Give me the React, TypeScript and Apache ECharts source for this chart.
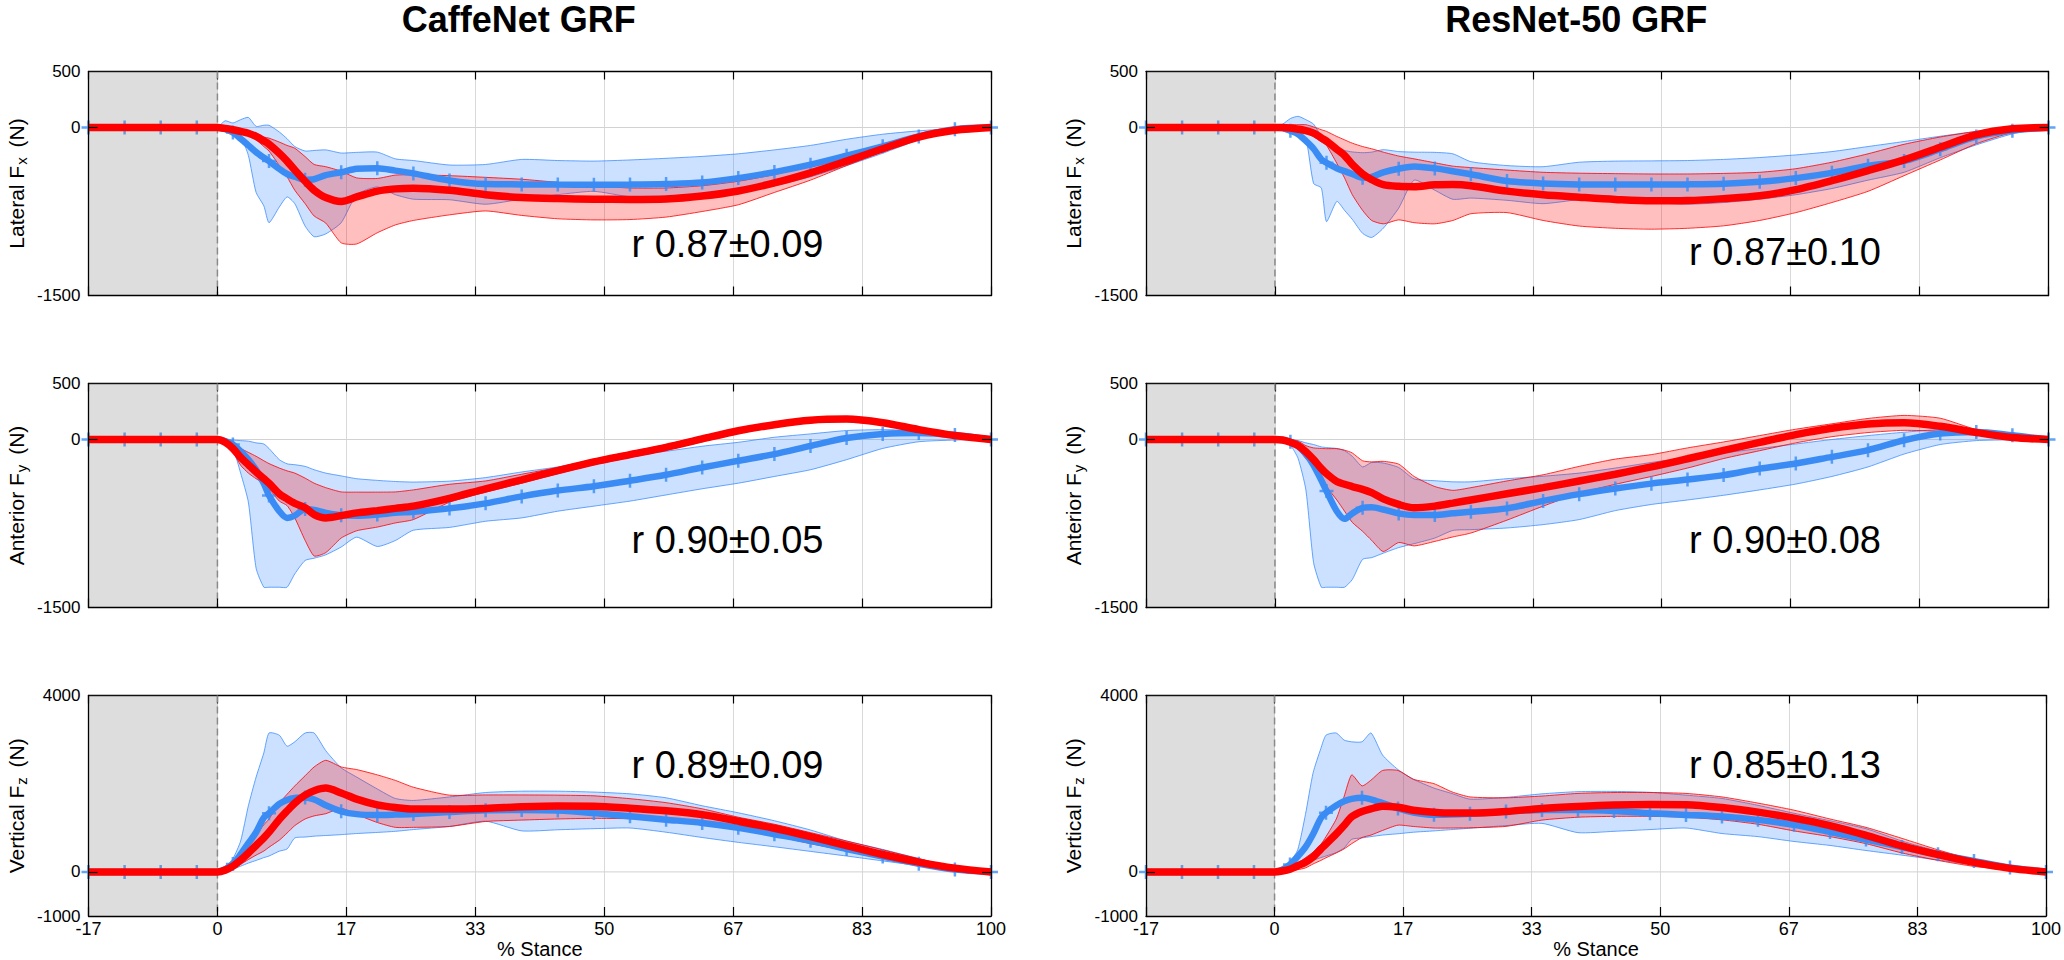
import React, { useEffect, useRef } from "react";
import * as echarts from "echarts";

// % stance sample positions shared by every curve (x = 0 is foot strike)
const STANCE = [
  -16.666, -12, -7.333, -2.667, 0, 1, 2, 3, 4, 5, 6, 6.667, 8, 9, 10, 11.333, 12.5, 14, 16, 18,
  20.667, 23, 25.333, 30, 34.667, 39.333, 44, 48.667, 53.333, 58, 62.667, 67.333, 72, 76.667,
  81.333, 86, 90.667, 95.333, 100,
];
// positions of the "+" markers along the measured mean curve
const MARKER_STANCE = [
  -16.666, -12, -7.333, -2.667, 2, 6.667, 11.333, 16, 20.667, 25.333, 30, 34.667, 39.333, 44,
  48.667, 53.333, 58, 62.667, 67.333, 72, 76.667, 81.333, 86, 90.667, 95.333, 100,
];
const X_TICK_LABELS = ["-17", "0", "17", "33", "50", "67", "83", "100"];

// ---- CaffeNet, lateral Fx ----
const caffeFxMeasMean = [0,0,0,0,0,-15,-45,-100,-160,-220,-270,-300,-370,-415,-440,-467,-462,-425,-400,-368,-363,-385,-410,-473,-505,-508,-510,-511,-510,-505,-492,-452,-398,-332,-252,-168,-80,-15,0];
const caffeFxMeasUp = [5,5,5,5,5,60,40,70,90,10,20,20,-40,-100,-170,-210,-205,-200,-228,-222,-220,-280,-295,-335,-330,-285,-295,-300,-290,-275,-258,-235,-200,-160,-105,-60,-30,-8,0];
const caffeFxMeasLo = [-5,-5,-5,-5,-5,-30,-60,-81,-250,-580,-700,-850,-710,-620,-680,-880,-975,-950,-850,-600,-530,-600,-640,-645,-685,-640,-600,-570,-620,-640,-625,-580,-520,-440,-340,-230,-110,-35,0];
const caffeFxPredMean = [0,0,0,0,0,-8,-20,-35,-51,-80,-120,-150,-230,-300,-380,-480,-560,-625,-660,-620,-568,-548,-542,-560,-600,-625,-635,-640,-642,-638,-612,-567,-495,-405,-300,-190,-85,-25,0];
const caffeFxPredUp = [3,3,3,3,0,0,-5,-15,-30,-50,-85,-95,-130,-160,-185,-260,-330,-350,-390,-450,-455,-425,-422,-430,-445,-462,-490,-520,-540,-540,-520,-480,-420,-340,-250,-150,-65,-15,0];
const caffeFxPredLo = [-3,-3,-3,-3,0,-10,-25,-45,-70,-110,-170,-210,-340,-440,-560,-680,-790,-853,-1030,-1040,-940,-870,-830,-780,-745,-785,-815,-825,-822,-800,-750,-690,-580,-470,-340,-215,-95,-30,0];

// ---- CaffeNet, anterior Fy ----
const caffeFyMeasMean = [0,0,0,0,0,-15,-45,-105,-180,-270,-394,-500,-640,-700,-680,-620,-630,-655,-677,-680,-670,-655,-645,-615,-570,-508,-456,-418,-368,-315,-250,-190,-130,-57,13,50,59,40,0];
const caffeFyMeasUp = [5,5,5,5,5,0,-5,-10,-15,-30,-40,-80,-180,-217,-225,-240,-270,-300,-325,-350,-365,-375,-380,-372,-340,-290,-245,-185,-140,-105,-60,-25,20,50,80,88,78,48,0];
const caffeFyMeasLo = [-5,-5,-5,-5,-5,-20,-80,-300,-560,-1150,-1319,-1319,-1319,-1319,-1200,-1080,-1060,-1030,-960,-872,-955,-902,-810,-785,-730,-700,-640,-595,-550,-495,-440,-390,-330,-270,-180,-80,-20,-5,0];
const caffeFyPredMean = [0,0,0,0,0,-25,-80,-160,-225,-290,-350,-390,-485,-530,-570,-610,-670,-700,-680,-655,-635,-615,-595,-525,-440,-360,-278,-200,-135,-70,5,78,132,172,182,150,88,35,0];
const caffeFyPredUp = [3,3,3,3,0,-10,-40,-80,-115,-150,-190,-215,-255,-280,-300,-345,-390,-430,-468,-470,-470,-468,-450,-400,-370,-310,-250,-175,-110,-45,30,100,155,195,205,172,105,45,0];
const caffeFyPredLo = [-3,-3,-3,-3,0,-35,-110,-230,-300,-350,-394,-440,-550,-590,-700,-900,-1040,-1010,-880,-815,-782,-745,-715,-560,-470,-390,-305,-225,-160,-95,-20,55,110,150,160,128,70,25,0];

// ---- CaffeNet, vertical Fz ----
const caffeFzMeasMean = [0,0,0,0,0,60,180,400,650,900,1230,1330,1540,1630,1675,1685,1640,1510,1375,1310,1290,1300,1315,1360,1400,1405,1390,1333,1260,1185,1110,1000,855,705,520,350,185,55,0];
const caffeFzMeasUp = [10,10,10,10,10,120,300,700,1500,2150,2700,3150,3100,2850,2950,3150,3150,2750,2360,2150,1880,1665,1620,1700,1800,1830,1830,1810,1770,1680,1500,1340,1160,950,700,510,300,90,0];
const caffeFzMeasLo = [-10,-10,-10,-10,-10,20,60,130,200,260,324,360,470,520,770,790,810,825,845,870,895,920,960,1030,1150,930,955,980,995,900,780,670,570,465,360,250,140,40,0];
const caffeFzPredMean = [0,0,0,0,0,40,130,270,430,600,771,900,1190,1380,1560,1740,1840,1900,1790,1650,1520,1460,1425,1425,1440,1475,1494,1490,1445,1385,1298,1150,990,800,595,395,222,85,0];
const caffeFzPredUp = [5,5,5,5,5,60,180,380,600,850,1069,1200,1560,1760,1950,2180,2380,2530,2380,2320,2200,2075,1920,1740,1745,1745,1740,1725,1660,1570,1430,1240,1080,890,700,500,300,110,0];
const caffeFzPredLo = [-5,-5,-5,-5,-5,20,80,170,280,380,473,560,720,880,1050,1200,1270,1320,1440,1300,1120,1010,1010,1030,1144,1175,1200,1215,1205,1170,1080,960,820,640,480,300,150,45,0];

// ---- ResNet-50, lateral Fx ----
const resFxMeasMean = [0,0,0,0,0,-5,-30,-60,-120,-190,-285,-315,-365,-390,-415,-448,-440,-400,-368,-348,-365,-390,-418,-478,-499,-508,-510,-510,-508,-502,-485,-452,-405,-342,-298,-194,-81,-28,0];
const resFxMeasUp = [5,5,5,5,5,30,80,100,70,30,-78,-110,-175,-205,-218,-225,-220,-198,-215,-220,-222,-235,-305,-340,-350,-310,-300,-298,-295,-285,-268,-245,-215,-170,-125,-78,-36,-8,0];
const resFxMeasLo = [-5,-5,-5,-5,-5,-10,-30,-60,-100,-500,-540,-840,-660,-740,-820,-945,-982,-900,-720,-470,-560,-641,-630,-650,-680,-645,-650,-670,-685,-670,-640,-600,-545,-470,-400,-270,-155,-57,0];
const resFxPredMean = [0,0,0,0,0,0,-5,-15,-28,-50,-93,-120,-195,-250,-330,-415,-465,-510,-525,-528,-512,-510,-520,-568,-600,-622,-642,-655,-652,-635,-610,-555,-475,-385,-289,-176,-66,-12,0];
const resFxPredUp = [3,3,3,3,0,15,25,25,25,5,-20,-35,-80,-110,-140,-170,-190,-220,-255,-280,-315,-345,-358,-380,-400,-408,-412,-415,-415,-410,-400,-368,-310,-235,-150,-85,-35,-8,0];
const resFxPredLo = [-3,-3,-3,-3,0,-15,-25,-35,-45,-80,-130,-160,-320,-450,-600,-740,-830,-860,-825,-850,-860,-830,-770,-760,-830,-880,-900,-908,-900,-878,-830,-760,-670,-570,-430,-290,-145,-45,0];

// ---- ResNet-50, anterior Fy ----
const resFyMeasMean = [0,0,0,0,0,-5,-20,-60,-130,-230,-365,-460,-640,-708,-660,-610,-605,-625,-660,-675,-675,-658,-645,-615,-548,-488,-438,-394,-358,-318,-260,-215,-155,-95,-7,53,68,38,0];
const resFyMeasUp = [5,5,5,5,5,5,0,-10,-30,-45,-66,-72,-80,-100,-150,-245,-205,-210,-250,-352,-368,-378,-378,-350,-328,-300,-255,-205,-160,-120,-80,-40,0,35,65,89,78,45,0];
const resFyMeasLo = [-5,-5,-5,-5,-5,-10,-50,-170,-450,-1100,-1319,-1319,-1319,-1319,-1250,-1070,-1055,-1015,-965,-930,-880,-812,-805,-790,-760,-715,-635,-580,-540,-498,-450,-398,-330,-245,-130,-45,-10,-3,0];
const resFyPredMean = [0,0,0,0,0,-5,-25,-55,-110,-180,-260,-305,-375,-400,-420,-445,-475,-530,-580,-610,-595,-568,-540,-485,-430,-370,-310,-245,-172,-97,-25,44,100,138,150,118,63,18,0];
const resFyPredUp = [3,3,3,3,5,5,0,-15,-55,-75,-80,-82,-82,-95,-120,-190,-200,-195,-220,-330,-420,-454,-430,-370,-315,-240,-175,-135,-75,-22,35,92,140,188,215,190,88,25,0];
const resFyPredLo = [-3,-3,-3,-3,-5,-10,-40,-90,-170,-250,-335,-420,-540,-640,-740,-820,-900,-1000,-920,-950,-910,-870,-835,-720,-595,-480,-400,-330,-255,-170,-100,-30,25,62,82,72,40,10,0];

// ---- ResNet-50, vertical Fz ----
const resFzMeasMean = [0,0,0,0,0,50,170,350,560,860,1218,1340,1505,1600,1655,1680,1645,1560,1440,1348,1295,1300,1318,1368,1404,1404,1382,1330,1293,1255,1180,1069,905,734,562,399,250,100,0];
const resFzMeasUp = [10,10,10,10,10,80,220,500,1300,2250,2800,3100,3150,2990,2950,2950,3150,2650,2320,2100,1900,1777,1650,1690,1770,1820,1825,1805,1740,1665,1510,1330,1160,980,700,470,290,120,0];
const resFzMeasLo = [-10,-10,-10,-10,-10,10,60,110,180,260,324,360,440,540,740,770,800,835,865,900,930,960,990,1050,1100,890,920,960,995,870,800,690,600,485,380,270,160,60,0];
const resFzPredMean = [0,0,0,0,0,20,60,140,220,340,520,630,860,1050,1250,1370,1430,1490,1465,1400,1355,1335,1335,1370,1440,1485,1518,1530,1525,1460,1355,1220,1050,830,590,390,215,80,0];
const resFzPredUp = [5,5,5,5,5,40,100,200,320,450,622,800,1200,1700,2200,1950,2080,2300,2300,2100,2000,1814,1700,1680,1720,1780,1800,1800,1780,1700,1560,1400,1200,1010,760,500,270,100,0];
const resFzPredLo = [-5,-5,-5,-5,-5,5,20,50,90,180,260,320,430,520,640,780,835,940,1060,1030,995,995,1000,1032,1175,1240,1260,1260,1240,1180,1080,930,800,640,430,260,125,40,0];

const COLUMN_TITLES = ["CaffeNet GRF", "ResNet-50 GRF"];
const ROW_NAMES = [
  "{n|Lateral F}{s|x}{n| (N)}",
  "{n|Anterior F}{s|y}{n| (N)}",
  "{n|Vertical F}{s|z}{n| (N)}",
];
const X_NAME = "{n|% Stance}";
const ROW_LIMITS = [
  [-1500, 500, 500],
  [-1500, 500, 500],
  [-1000, 4000, 1000],
];
const R_LABELS = [
  ["r 0.87±0.09", "r 0.90±0.05", "r 0.89±0.09"],
  ["r 0.87±0.10", "r 0.90±0.08", "r 0.85±0.13"],
];

const X_MIN = -100 / 6;
const X_MAX = 100;
const X_STEP = 100 / 6;
const SHADE_FROM = X_MIN;
const SHADE_TO = 0;

// layout (px)
const COL_LEFT = [88.5, 1146];
const PLOT_W = 902.5;
const ROW_TOP = [71.5, 383.5, 695.5];
const PLOT_H = 224;
const TITLE_DX = -21;
const R_DX = 543;
const R_Y = [
  [244, 539.5, 765],
  [252, 540, 765],
];

const FONT = '"Liberation Sans", Arial, Helvetica, sans-serif';
const BLUE = "#3a8cf4";
const RED = "#ff0000";
const PLUS = "path://M5,0L5,10M0,5L10,5";

type PanelData = {
  mMean: number[]; mUp: number[]; mLo: number[];
  pMean: number[]; pUp: number[]; pLo: number[];
};

const PANEL_DATA: PanelData[][] = [
  [
    { mMean: caffeFxMeasMean, mUp: caffeFxMeasUp, mLo: caffeFxMeasLo, pMean: caffeFxPredMean, pUp: caffeFxPredUp, pLo: caffeFxPredLo },
    { mMean: caffeFyMeasMean, mUp: caffeFyMeasUp, mLo: caffeFyMeasLo, pMean: caffeFyPredMean, pUp: caffeFyPredUp, pLo: caffeFyPredLo },
    { mMean: caffeFzMeasMean, mUp: caffeFzMeasUp, mLo: caffeFzMeasLo, pMean: caffeFzPredMean, pUp: caffeFzPredUp, pLo: caffeFzPredLo },
  ],
  [
    { mMean: resFxMeasMean, mUp: resFxMeasUp, mLo: resFxMeasLo, pMean: resFxPredMean, pUp: resFxPredUp, pLo: resFxPredLo },
    { mMean: resFyMeasMean, mUp: resFyMeasUp, mLo: resFyMeasLo, pMean: resFyPredMean, pUp: resFyPredUp, pLo: resFyPredLo },
    { mMean: resFzMeasMean, mUp: resFzMeasUp, mLo: resFzMeasLo, pMean: resFzPredMean, pUp: resFzPredUp, pLo: resFzPredLo },
  ],
];

function bandSeries(g: number, lo: number[], hi: number[], fill: string, stroke: string) {
  return {
    type: "custom",
    xAxisIndex: 2 * g,
    yAxisIndex: 2 * g,
    silent: true,
    clip: true,
    data: STANCE.map((x, i) => [x, lo[i], hi[i]]),
    encode: { x: 0, y: [1, 2] },
    renderItem: (params: any, api: any) => {
      if (params.dataIndex !== 0) return null;
      const pts: number[][] = [];
      for (let i = 0; i < STANCE.length; i++) pts.push(api.coord([STANCE[i], hi[i]]));
      for (let i = STANCE.length - 1; i >= 0; i--) pts.push(api.coord([STANCE[i], lo[i]]));
      return {
        type: "polygon",
        shape: { points: pts, smooth: 0.2 },
        style: { fill, stroke, lineWidth: 1 },
      };
    },
  };
}

function buildOption() {
  const grid: any[] = [];
  const xAxis: any[] = [];
  const yAxis: any[] = [];
  const series: any[] = [];
  const graphic: any[] = [];

  for (let c = 0; c < 2; c++) {
    graphic.push({
      type: "text",
      x: COL_LEFT[c] + PLOT_W / 2 + TITLE_DX,
      y: 19,
      style: {
        text: COLUMN_TITLES[c],
        font: `bold 36px ${FONT}`,
        fill: "#000",
        align: "center",
        verticalAlign: "middle",
      },
    });
    for (let r = 0; r < 3; r++) {
      const g = c * 3 + r;
      const [yMin, yMax, yStep] = ROW_LIMITS[r];
      const d = PANEL_DATA[c][r];
      const bottomRow = r === 2;
      grid.push({ left: COL_LEFT[c], top: ROW_TOP[r], width: PLOT_W, height: PLOT_H, containLabel: false });

      // bottom axis: frame, ticks, labels
      xAxis.push({
        type: "value",
        gridIndex: g,
        min: X_MIN,
        max: X_MAX,
        interval: X_STEP,
        position: "bottom",
        z: 10,
        axisLine: { show: true, onZero: false, lineStyle: { color: "#000", width: 1.3 } },
        axisTick: { show: true, inside: true, length: 9, lineStyle: { color: "#000", width: 1.2 } },
        axisLabel: {
          show: bottomRow,
          margin: 4,
          fontSize: 18,
          fontFamily: FONT,
          color: "#000",
          showMinLabel: true,
          showMaxLabel: true,
          formatter: (v: number) => X_TICK_LABELS[Math.round((v - X_MIN) / X_STEP)] ?? "",
        },
        splitLine: { show: false },
        name: bottomRow ? X_NAME : "",
        nameLocation: "middle",
        nameGap: 23,
        nameTextStyle: {
          fontSize: 20,
          fontFamily: FONT,
          color: "#000",
          rich: { n: { fontSize: 20, fontFamily: FONT, color: "#000" } },
        },
      });
      // top axis: frame, top ticks, vertical grid lines (kept below the data)
      xAxis.push({
        type: "value",
        gridIndex: g,
        min: X_MIN,
        max: X_MAX,
        interval: X_STEP,
        position: "top",
        z: 0,
        axisLine: { show: true, onZero: false, lineStyle: { color: "#000", width: 1.3 } },
        axisTick: { show: true, inside: true, length: 8, lineStyle: { color: "#000", width: 1.2 } },
        axisLabel: { show: false },
        splitLine: { show: true, lineStyle: { color: "#d9d9d9", width: 1 } },
      });
      yAxis.push({
        type: "value",
        gridIndex: g,
        min: yMin,
        max: yMax,
        interval: yStep,
        position: "left",
        z: 10,
        axisLine: { show: true, onZero: false, lineStyle: { color: "#000", width: 1.3 } },
        axisTick: { show: true, inside: true, length: 9, customValues: [0], lineStyle: { color: "#000", width: 1.2 } },
        axisLabel: {
          show: true,
          customValues: [yMin, 0, yMax],
          formatter: (v: number) => String(v),
          margin: 8,
          fontSize: 17,
          fontFamily: FONT,
          color: "#000",
          showMinLabel: true,
          showMaxLabel: true,
        },
        splitLine: { show: false },
        name: ROW_NAMES[r],
        nameLocation: "middle",
        nameGap: 60,
        nameTextStyle: {
          fontSize: 21,
          fontFamily: FONT,
          color: "#000",
          rich: {
            n: { fontSize: 21, fontFamily: FONT, color: "#000" },
            s: { fontSize: 15, fontFamily: FONT, color: "#000", padding: [10, 4, 0, 1] },
          },
        },
      });
      yAxis.push({
        type: "value",
        gridIndex: g,
        min: yMin,
        max: yMax,
        interval: yStep,
        position: "right",
        z: 10,
        axisLine: { show: true, onZero: false, lineStyle: { color: "#000", width: 1.3 } },
        axisTick: { show: true, inside: true, length: 9, customValues: [0], lineStyle: { color: "#000", width: 1.2 } },
        axisLabel: { show: false },
        splitLine: { show: false },
      });

      const xi = 2 * g;
      // zero reference line
      series.push({
        type: "custom",
        xAxisIndex: xi,
        yAxisIndex: xi,
        silent: true,
        data: [[0, 0]],
        renderItem: (_p: any, api: any) => {
          const a = api.coord([X_MIN, 0]);
          const b = api.coord([X_MAX, 0]);
          return { type: "line", shape: { x1: a[0], y1: a[1], x2: b[0], y2: b[1] }, style: { stroke: "#d2d2d2", lineWidth: 1 } };
        },
      });
      series.push(bandSeries(g, d.mLo, d.mUp, "rgba(51,136,255,0.25)", "rgba(51,136,255,0.75)"));
      series.push(bandSeries(g, d.pLo, d.pUp, "rgba(255,0,0,0.25)", "rgba(255,0,0,0.8)"));
      series.push({
        type: "line",
        xAxisIndex: xi,
        yAxisIndex: xi,
        silent: true,
        showSymbol: false,
        smooth: 0.3,
        data: STANCE.map((x, i) => [x, d.mMean[i]]),
        lineStyle: { color: BLUE, width: 6.5 },
      });
      series.push({
        type: "line",
        xAxisIndex: xi,
        yAxisIndex: xi,
        silent: true,
        showSymbol: false,
        smooth: 0.3,
        data: STANCE.map((x, i) => [x, d.pMean[i]]),
        lineStyle: { color: RED, width: 7.5 },
      });
      series.push({
        type: "scatter",
        xAxisIndex: xi,
        yAxisIndex: xi,
        silent: true,
        symbol: PLUS,
        symbolSize: 14,
        itemStyle: { color: "rgba(0,0,0,0)", borderColor: BLUE, borderWidth: 2.5 },
        data: MARKER_STANCE.map((x) => [x, d.mMean[STANCE.indexOf(x)]]),
      });
      // pre-contact shading and foot-strike line
      series.push({
        type: "custom",
        xAxisIndex: xi,
        yAxisIndex: xi,
        silent: true,
        z: 3,
        data: [[SHADE_FROM, SHADE_TO]],
        renderItem: (_p: any, api: any) => {
          const a = api.coord([SHADE_FROM, yMax]);
          const b = api.coord([SHADE_TO, yMin]);
          return {
            type: "group",
            children: [
              { type: "rect", shape: { x: a[0], y: a[1], width: b[0] - a[0], height: b[1] - a[1] }, style: { fill: "rgba(128,128,128,0.27)" } },
              { type: "line", shape: { x1: b[0], y1: a[1], x2: b[0], y2: b[1] }, style: { stroke: "#8a8a8a", lineWidth: 1.5, lineDash: [7, 4] } },
            ],
          };
        },
      });

      graphic.push({
        type: "text",
        x: COL_LEFT[c] + R_DX,
        y: R_Y[c][r],
        z: 20,
        style: {
          text: R_LABELS[c][r],
          font: `38px ${FONT}`,
          fill: "#000",
          align: "left",
          verticalAlign: "middle",
        },
      });
    }
  }

  return {
    animation: false,
    backgroundColor: "#ffffff",
    grid,
    xAxis,
    yAxis,
    series,
    graphic,
  };
}

export default function App() {
  const ref = useRef<HTMLDivElement>(null);
  useEffect(() => {
    if (!ref.current) return;
    const chart = echarts.init(ref.current, null, { renderer: "svg" });
    chart.setOption(buildOption() as any);
    return () => chart.dispose();
  }, []);
  return <div ref={ref} style={{ position: "absolute", left: 0, top: 0, width: 2064, height: 960 }} />;
}
